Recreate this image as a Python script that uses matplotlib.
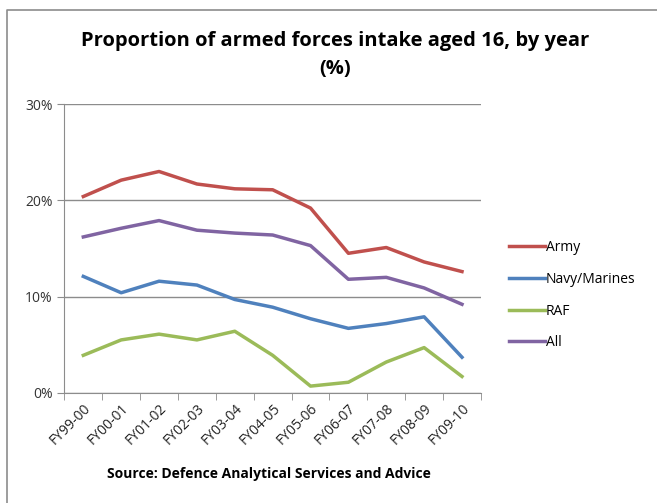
import matplotlib.pyplot as plt
from matplotlib.lines import Line2D

# Data (%)
years = ["FY99-00", "FY00-01", "FY01-02", "FY02-03", "FY03-04", "FY04-05",
         "FY05-06", "FY06-07", "FY07-08", "FY08-09", "FY09-10"]
army = [20.4, 22.1, 23.0, 21.7, 21.2, 21.1, 19.2, 14.5, 15.1, 13.6, 12.6]
navy = [12.1, 10.4, 11.6, 11.2, 9.7, 8.9, 7.7, 6.7, 7.2, 7.9, 3.7]
raf = [3.9, 5.5, 6.1, 5.5, 6.4, 3.9, 0.7, 1.1, 3.2, 4.7, 1.7]
all_forces = [16.2, 17.1, 17.9, 16.9, 16.6, 16.4, 15.3, 11.8, 12.0, 10.9, 9.2]

series = [("Army", army, "#C0504D"),
          ("Navy/Marines", navy, "#4F81BD"),
          ("RAF", raf, "#9BBB59"),
          ("All", all_forces, "#8064A2")]

plt.rcParams['font.family'] = ['Open Sans', 'DejaVu Sans']

fig = plt.figure(figsize=(6.57, 5.03), dpi=100)
ax = fig.add_axes([0.098, 0.219, 0.634, 0.574])

x = list(range(len(years)))
for name, vals, color in series:
    ax.plot(x, vals, color=color, linewidth=2.5, label=name)

ax.set_xlim(-0.5, len(years) - 0.5)
ax.set_ylim(0, 30)
ax.set_yticks([0, 10, 20, 30])
ax.set_yticklabels(["0%", "10%", "20%", "30%"], fontsize=10, color="#333333")
ax.yaxis.grid(True, color="#8c8c8c", linewidth=1)
ax.set_axisbelow(True)

ax.set_xticks(x)
ax.set_xticklabels(years, rotation=45, ha="right", rotation_mode="anchor",
                   fontsize=10, color="#222222")
ax.tick_params(axis="x", length=0, pad=6)
ax.set_xticks([i - 0.5 for i in range(len(years) + 1)], minor=True)
ax.tick_params(axis="x", which="minor", length=5, color="#8c8c8c", direction="out")
ax.tick_params(axis="y", length=5, color="#8c8c8c", direction="out")

for side in ["top", "right"]:
    ax.spines[side].set_visible(False)
for side in ["left", "bottom"]:
    ax.spines[side].set_color("#8c8c8c")

fig.text(0.51, 0.89, "Proportion of armed forces intake aged 16, by year\n(%)",
         ha="center", va="center", fontsize=14.5, fontweight="bold", linespacing=1.55)
fig.text(0.41, 0.058, "Source: Defence Analytical Services and Advice",
         ha="center", va="center", fontsize=10, fontweight="bold")

fig.legend(loc="center left", bbox_to_anchor=(0.755, 0.413), frameon=False,
           fontsize=10, handlelength=2.6, handletextpad=0.1, labelspacing=1.2)

# chart-area border (only top and left edges visible in the crop)
fig.lines.append(Line2D([0.0114, 0.0114, 1.0], [0.0, 0.980, 0.980],
                        transform=fig.transFigure, color="#8c8c8c", linewidth=1.2))

fig.savefig("out.png", dpi=100)
